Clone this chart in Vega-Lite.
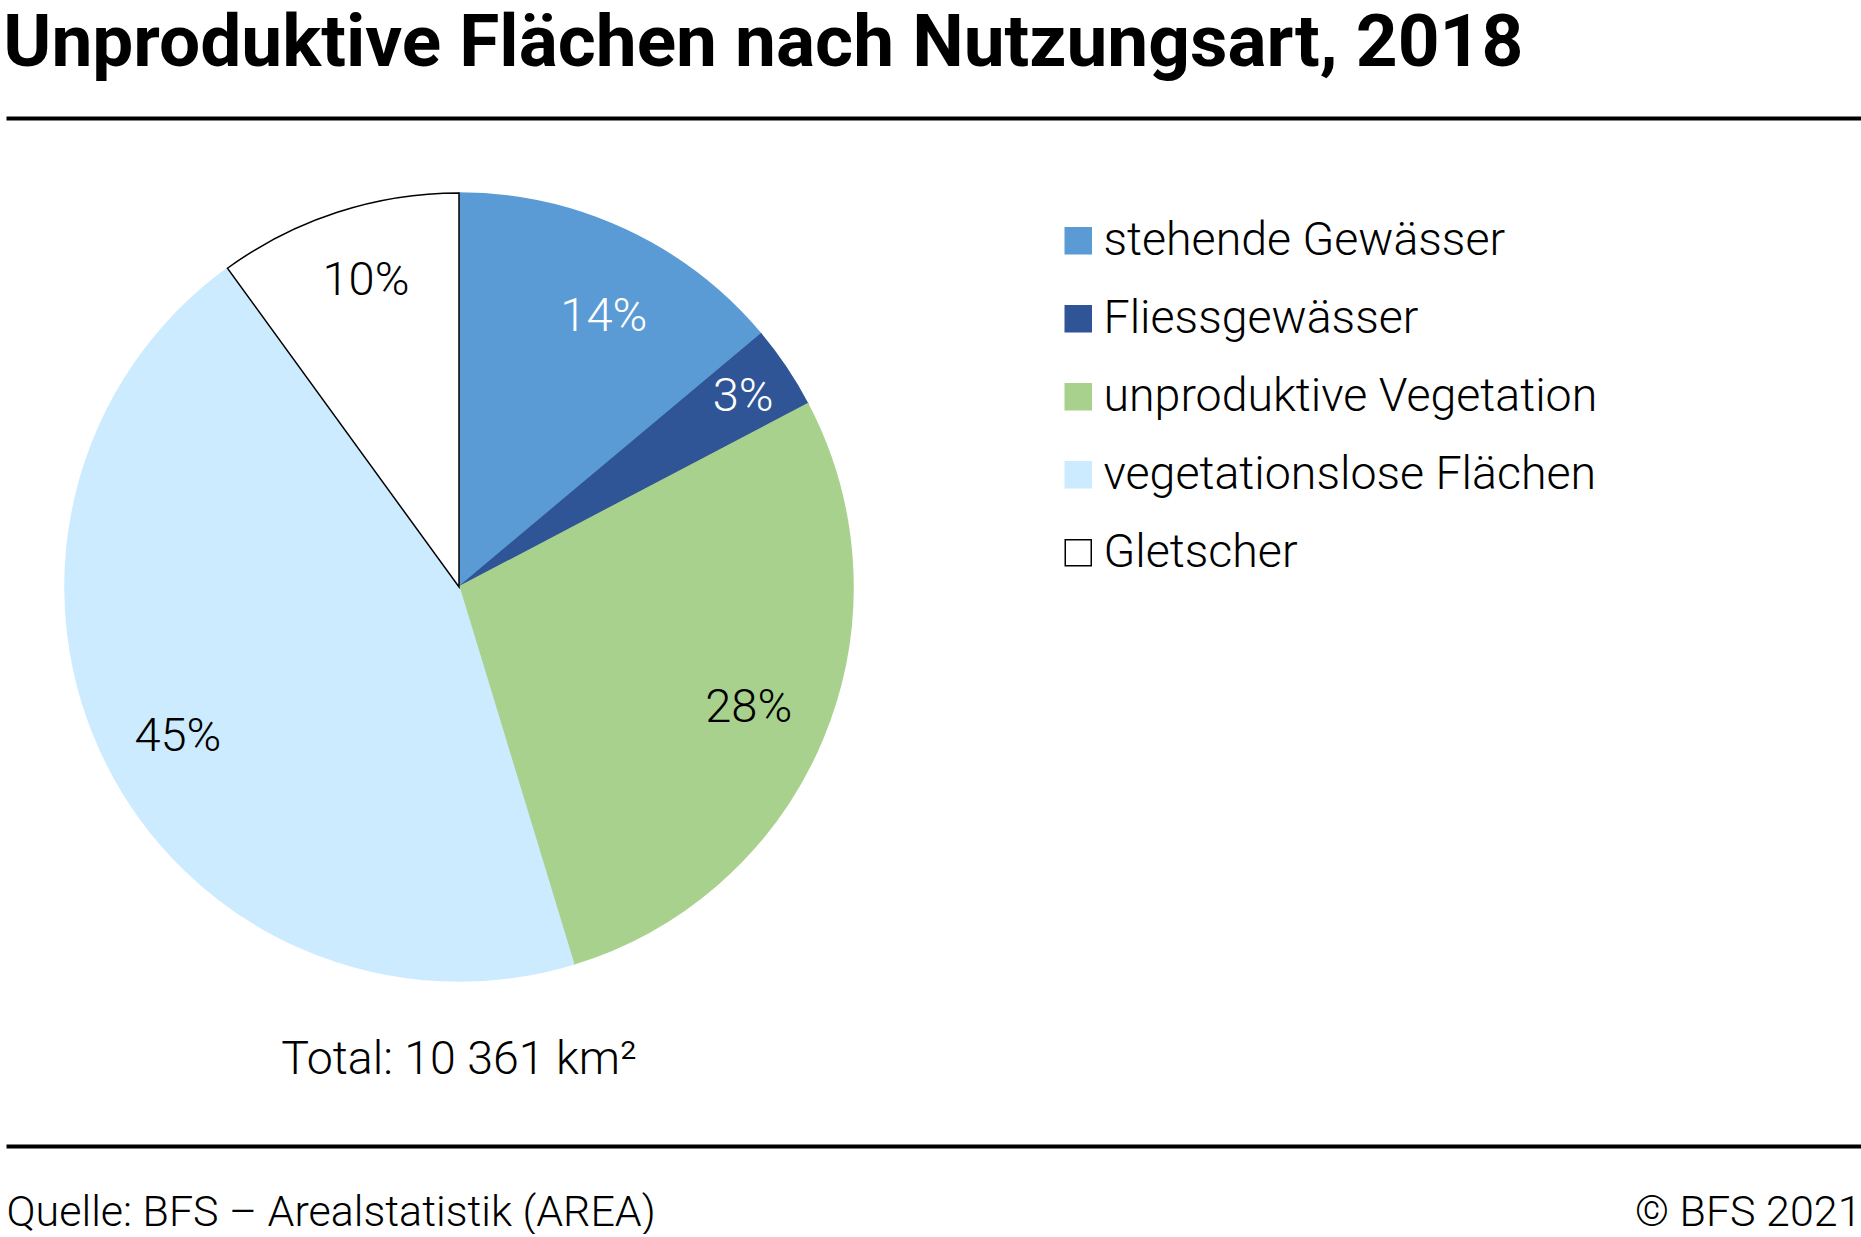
{
  "$schema": "https://vega.github.io/schema/vega-lite/v6.json",
  "background": "white",
  "padding": {"left": 3, "top": 7, "right": 0, "bottom": 0},
  "config": {"view": {"stroke": null}, "font": "Roboto"},
  "datasets": {
    "parts": [
      {"cat": "stehende Gewässer", "value": 13.9, "label": "14%", "order": 1},
      {"cat": "Fliessgewässer", "value": 3.4, "label": "3%", "order": 2},
      {"cat": "unproduktive Vegetation", "value": 28.0, "label": "28%", "order": 3},
      {"cat": "vegetationslose Flächen", "value": 44.7, "label": "45%", "order": 4},
      {"cat": "Gletscher", "value": 10.0, "label": "10%", "order": 5}
    ],
    "footer": [
      {"item": "Quelle: BFS – Arealstatistik (AREA)"},
      {"item": "© BFS 2021"}
    ]
  },
  "spacing": 0,
  "bounds": "flush",
  "resolve": {
    "scale": {"fill": "independent", "stroke": "independent"},
    "legend": {"fill": "independent", "stroke": "independent"}
  },
  "vconcat": [
    {
      "width": 1855,
      "height": 1,
      "title": {
        "text": "Unproduktive Flächen nach Nutzungsart, 2018",
        "anchor": "start",
        "font": "Roboto",
        "fontSize": 73,
        "fontWeight": "bold",
        "color": "black",
        "offset": 34
      },
      "data": {"name": "footer"},
      "mark": {"type": "point", "opacity": 0},
      "encoding": {
        "x": {
          "field": "item", "type": "nominal", "sort": null,
          "scale": {"type": "point", "padding": 0},
          "axis": {"orient": "bottom", "labels": false, "ticks": false, "domain": true, "domainColor": "black", "domainWidth": 4, "title": null, "grid": false}
        }
      }
    },
    {
      "width": 906,
      "height": 938,
      "title": {
        "text": "Total: 10 361 km²",
        "orient": "bottom",
        "anchor": "middle",
        "font": "Roboto",
        "fontSize": 46.5,
        "fontWeight": 300,
        "color": "black",
        "offset": -19.5
      },
      "data": {"name": "parts"},
      "encoding": {
        "theta": {"field": "value", "type": "quantitative", "stack": true},
        "order": {"field": "order", "type": "quantitative"}
      },
      "layer": [
        {
          "mark": {"type": "arc", "radius": 394, "strokeWidth": 1.5},
          "encoding": {
            "fill": {
              "field": "cat", "type": "nominal",
              "scale": {
                "domain": ["stehende Gewässer", "Fliessgewässer", "unproduktive Vegetation", "vegetationslose Flächen", "Gletscher"],
                "range": ["#5B9BD5", "#2F5597", "#A9D18E", "#CCEBFF", "#FFFFFF"]
              },
              "legend": {
                "title": null, "orient": "none", "legendX": 1049, "legendY": 99.5,
                "symbolType": "square", "symbolSize": 676, "symbolStrokeWidth": 1.5,
                "labelFont": "Roboto", "labelFontWeight": 300, "labelFontSize": 46.5, "labelColor": "black",
                "labelOffset": 2, "rowPadding": 31, "padding": 0, "labelLimit": 0
              }
            },
            "stroke": {
              "field": "cat", "type": "nominal",
              "scale": {
                "domain": ["stehende Gewässer", "Fliessgewässer", "unproduktive Vegetation", "vegetationslose Flächen", "Gletscher"],
                "range": ["#5B9BD5", "#2F5597", "#A9D18E", "#CCEBFF", "#000000"]
              },
              "legend": {
                "title": null, "orient": "none", "legendX": 1049, "legendY": 99.5,
                "symbolType": "square", "symbolSize": 676, "symbolStrokeWidth": 1.5,
                "labelFont": "Roboto", "labelFontWeight": 300, "labelFontSize": 46.5, "labelColor": "black",
                "labelOffset": 2, "rowPadding": 31, "padding": 0, "labelLimit": 0
              }
            }
          }
        },
        {
          "mark": {"type": "text", "radius": 314, "dx": 12, "dy": 15, "font": "Roboto", "fontWeight": 300, "fontSize": 47, "align": "center", "baseline": "middle", "fill": "white"},
          "encoding": {
            "text": {"field": "label", "type": "nominal"},
            "opacity": {"condition": {"test": "datum.cat === 'stehende Gewässer'", "value": 1}, "value": 0}
          }
        },
        {
          "mark": {"type": "text", "radius": 342, "font": "Roboto", "fontWeight": 300, "fontSize": 47, "align": "center", "baseline": "middle", "fill": "white"},
          "encoding": {
            "text": {"field": "label", "type": "nominal"},
            "opacity": {"condition": {"test": "datum.cat === 'Fliessgewässer'", "value": 1}, "value": 0}
          }
        },
        {
          "mark": {"type": "text", "radius": 314, "font": "Roboto", "fontWeight": 300, "fontSize": 47, "align": "center", "baseline": "middle", "fill": "black"},
          "encoding": {
            "text": {"field": "label", "type": "nominal"},
            "opacity": {"condition": {"test": "datum.cat === 'unproduktive Vegetation'", "value": 1}, "value": 0}
          }
        },
        {
          "mark": {"type": "text", "radius": 314, "dy": 10, "font": "Roboto", "fontWeight": 300, "fontSize": 47, "align": "center", "baseline": "middle", "fill": "black"},
          "encoding": {
            "text": {"field": "label", "type": "nominal"},
            "opacity": {"condition": {"test": "datum.cat === 'vegetationslose Flächen'", "value": 1}, "value": 0}
          }
        },
        {
          "mark": {"type": "text", "radius": 314, "dx": 4, "dy": -7, "font": "Roboto", "fontWeight": 300, "fontSize": 47, "align": "center", "baseline": "middle", "fill": "black"},
          "encoding": {
            "text": {"field": "label", "type": "nominal"},
            "opacity": {"condition": {"test": "datum.cat === 'Gletscher'", "value": 1}, "value": 0}
          }
        }
      ]
    },
    {
      "width": 1855,
      "height": 90,
      "data": {"name": "footer"},
      "mark": {"type": "point", "opacity": 0},
      "encoding": {
        "x": {
          "field": "item", "type": "nominal", "sort": null,
          "scale": {"type": "point", "padding": 0},
          "axis": {
            "orient": "bottom", "labels": true, "ticks": false, "domain": true, "domainColor": "black", "domainWidth": 4,
            "title": null, "grid": false, "labelAngle": 0, "labelFlush": true, "labelOverlap": false, "labelLimit": 0,
            "labelFont": "Roboto", "labelFontWeight": 300, "labelFontSize": 43, "labelColor": "black",
            "labelBaseline": "alphabetic", "labelPadding": 79
          }
        }
      }
    }
  ]
}
